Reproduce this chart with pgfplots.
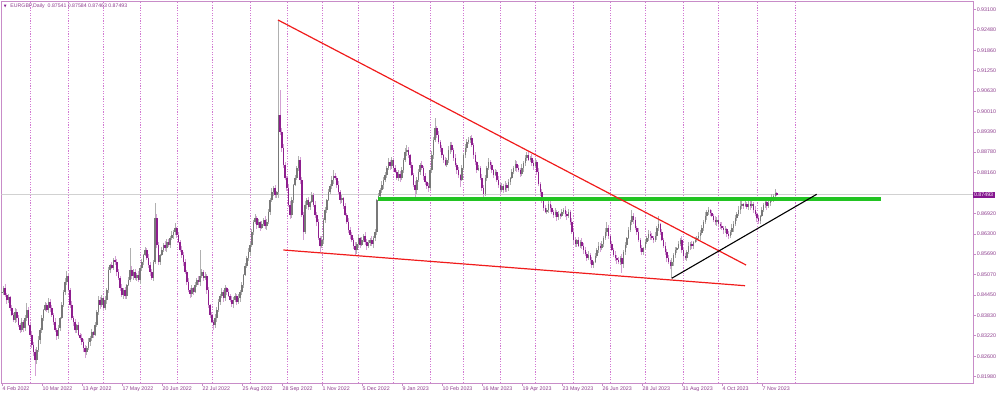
\documentclass[border=0pt]{standalone}
\usepackage{fontspec}
\setmainfont{Liberation Sans}
\newfontfamily\djv{DejaVu Sans}
\usepackage{pgfplots}
\usepackage{pgfplotstable}
\pgfplotsset{compat=1.18}
\definecolor{framec}{HTML}{C88CC8}
\definecolor{lbl}{HTML}{8C3C8C}
\definecolor{gridc}{HTML}{D27AD2}
\definecolor{bearbody}{HTML}{8E1E8E}
\definecolor{bearwick}{HTML}{D4A0D4}
\definecolor{bullbody}{HTML}{787878}
\definecolor{bullwick}{HTML}{B0B0B0}
\definecolor{trendred}{HTML}{F01C1C}
\definecolor{lvlgreen}{HTML}{22C422}
\definecolor{pricebox}{HTML}{85168F}

\pgfplotstableread{
c h l
0.8454 0.8463 0.8448
0.8466 0.8472 0.8445
0.8445 0.8478 0.8439
0.8430 0.8451 0.8418
0.8439 0.8448 0.8421
0.8406 0.8442 0.8397
0.8385 0.8415 0.8381
0.8369 0.8391 0.8363
0.8394 0.8406 0.8360
0.8375 0.8403 0.8363
0.8354 0.8385 0.8348
0.8339 0.8360 0.8330
0.8363 0.8375 0.8333
0.8345 0.8369 0.8333
0.8375 0.8385 0.8336
0.8400 0.8421 0.8366
0.8354 0.8409 0.8351
0.8324 0.8360 0.8318
0.8294 0.8336 0.8285
0.8272 0.8303 0.8260
0.8248 0.8282 0.8200
0.8279 0.8288 0.8236
0.8309 0.8321 0.8272
0.8339 0.8345 0.8297
0.8375 0.8385 0.8330
0.8400 0.8403 0.8366
0.8415 0.8424 0.8397
0.8400 0.8421 0.8394
0.8424 0.8436 0.8391
0.8406 0.8433 0.8394
0.8385 0.8415 0.8378
0.8363 0.8391 0.8354
0.8339 0.8375 0.8333
0.8321 0.8345 0.8309
0.8345 0.8354 0.8312
0.8375 0.8378 0.8336
0.8415 0.8424 0.8372
0.8454 0.8460 0.8409
0.8484 0.8497 0.8445
0.8503 0.8518 0.8475
0.8460 0.8512 0.8454
0.8415 0.8466 0.8406
0.8375 0.8427 0.8369
0.8363 0.8381 0.8351
0.8339 0.8372 0.8330
0.8354 0.8357 0.8330
0.8324 0.8363 0.8321
0.8315 0.8330 0.8309
0.8303 0.8327 0.8294
0.8285 0.8312 0.8272
0.8272 0.8294 0.8254
0.8285 0.8291 0.8263
0.8303 0.8315 0.8279
0.8315 0.8321 0.8291
0.8333 0.8342 0.8306
0.8324 0.8336 0.8315
0.8354 0.8363 0.8321
0.8394 0.8400 0.8348
0.8430 0.8442 0.8385
0.8415 0.8439 0.8403
0.8436 0.8445 0.8409
0.8406 0.8442 0.8397
0.8430 0.8442 0.8400
0.8460 0.8466 0.8418
0.8521 0.8530 0.8451
0.8536 0.8539 0.8512
0.8527 0.8545 0.8524
0.8551 0.8557 0.8521
0.8545 0.8563 0.8536
0.8515 0.8554 0.8503
0.8497 0.8524 0.8491
0.8466 0.8503 0.8457
0.8445 0.8478 0.8439
0.8460 0.8466 0.8433
0.8442 0.8469 0.8433
0.8475 0.8478 0.8433
0.8491 0.8500 0.8472
0.8521 0.8587 0.8484
0.8503 0.8533 0.8494
0.8515 0.8524 0.8491
0.8497 0.8524 0.8491
0.8506 0.8512 0.8487
0.8491 0.8518 0.8484
0.8527 0.8533 0.8478
0.8545 0.8554 0.8518
0.8566 0.8569 0.8536
0.8581 0.8590 0.8563
0.8557 0.8587 0.8551
0.8536 0.8569 0.8527
0.8515 0.8545 0.8503
0.8497 0.8524 0.8491
0.8545 0.8551 0.8487
0.8678 0.8724 0.8539
0.8596 0.8690 0.8587
0.8545 0.8605 0.8536
0.8566 0.8569 0.8536
0.8581 0.8590 0.8563
0.8596 0.8602 0.8575
0.8587 0.8609 0.8578
0.8605 0.8615 0.8575
0.8596 0.8615 0.8590
0.8618 0.8624 0.8587
0.8627 0.8639 0.8612
0.8636 0.8642 0.8615
0.8648 0.8663 0.8627
0.8627 0.8651 0.8618
0.8605 0.8636 0.8602
0.8581 0.8612 0.8575
0.8566 0.8593 0.8557
0.8545 0.8575 0.8533
0.8515 0.8554 0.8509
0.8484 0.8521 0.8475
0.8460 0.8497 0.8454
0.8448 0.8466 0.8436
0.8466 0.8475 0.8439
0.8454 0.8469 0.8445
0.8475 0.8484 0.8451
0.8491 0.8497 0.8469
0.8484 0.8503 0.8475
0.8503 0.8581 0.8472
0.8515 0.8524 0.8497
0.8497 0.8521 0.8487
0.8503 0.8515 0.8491
0.8460 0.8509 0.8448
0.8415 0.8469 0.8406
0.8385 0.8418 0.8375
0.8363 0.8394 0.8360
0.8354 0.8369 0.8339
0.8375 0.8388 0.8345
0.8400 0.8409 0.8363
0.8424 0.8433 0.8394
0.8442 0.8448 0.8415
0.8454 0.8466 0.8436
0.8436 0.8460 0.8424
0.8466 0.8475 0.8427
0.8454 0.8469 0.8445
0.8442 0.8463 0.8439
0.8430 0.8448 0.8424
0.8418 0.8442 0.8409
0.8430 0.8439 0.8406
0.8442 0.8451 0.8424
0.8424 0.8448 0.8415
0.8436 0.8448 0.8418
0.8454 0.8460 0.8424
0.8475 0.8484 0.8445
0.8506 0.8509 0.8466
0.8533 0.8542 0.8503
0.8557 0.8563 0.8527
0.8575 0.8587 0.8548
0.8596 0.8605 0.8563
0.8636 0.8645 0.8590
0.8666 0.8672 0.8627
0.8678 0.8690 0.8660
0.8657 0.8684 0.8645
0.8666 0.8675 0.8648
0.8648 0.8669 0.8639
0.8660 0.8669 0.8645
0.8672 0.8678 0.8654
0.8654 0.8684 0.8645
0.8666 0.8675 0.8642
0.8696 0.8705 0.8660
0.8733 0.8739 0.8687
0.8757 0.8769 0.8727
0.8769 0.8775 0.8745
0.8748 0.8778 0.8739
0.8757 0.8760 0.8739
0.8990 0.9278 0.8739
0.8938 0.9066 0.8929
0.8890 0.8951 0.8878
0.8839 0.8902 0.8830
0.8799 0.8848 0.8793
0.8769 0.8805 0.8760
0.8718 0.8781 0.8711
0.8687 0.8730 0.8675
0.8733 0.8742 0.8678
0.8778 0.8781 0.8724
0.8799 0.8808 0.8775
0.8830 0.8836 0.8793
0.8854 0.8866 0.8820
0.8793 0.8863 0.8781
0.8687 0.8802 0.8681
0.8636 0.8696 0.8612
0.8718 0.8730 0.8630
0.8733 0.8739 0.8705
0.8712 0.8742 0.8702
0.8727 0.8730 0.8702
0.8748 0.8757 0.8724
0.8718 0.8754 0.8712
0.8687 0.8730 0.8678
0.8666 0.8696 0.8654
0.8618 0.8675 0.8612
0.8593 0.8624 0.8575
0.8612 0.8624 0.8587
0.8672 0.8678 0.8600
0.8702 0.8712 0.8663
0.8733 0.8736 0.8693
0.8757 0.8766 0.8730
0.8775 0.8781 0.8751
0.8793 0.8805 0.8766
0.8805 0.8823 0.8781
0.8799 0.8814 0.8793
0.8778 0.8805 0.8769
0.8757 0.8790 0.8751
0.8733 0.8763 0.8721
0.8739 0.8748 0.8724
0.8714 0.8742 0.8705
0.8687 0.8724 0.8684
0.8666 0.8693 0.8660
0.8642 0.8678 0.8633
0.8627 0.8651 0.8615
0.8612 0.8636 0.8605
0.8593 0.8618 0.8584
0.8581 0.8605 0.8566
0.8600 0.8605 0.8569
0.8618 0.8627 0.8590
0.8596 0.8621 0.8587
0.8612 0.8621 0.8593
0.8624 0.8630 0.8605
0.8605 0.8636 0.8596
0.8593 0.8615 0.8581
0.8602 0.8612 0.8587
0.8612 0.8618 0.8593
0.8600 0.8624 0.8593
0.8618 0.8624 0.8587
0.8636 0.8645 0.8609
0.8733 0.8736 0.8627
0.8745 0.8754 0.8730
0.8763 0.8769 0.8739
0.8778 0.8790 0.8754
0.8793 0.8802 0.8766
0.8808 0.8817 0.8787
0.8830 0.8836 0.8799
0.8848 0.8860 0.8823
0.8836 0.8854 0.8823
0.8854 0.8863 0.8827
0.8830 0.8857 0.8820
0.8817 0.8839 0.8814
0.8799 0.8823 0.8793
0.8811 0.8823 0.8790
0.8799 0.8820 0.8787
0.8823 0.8833 0.8793
0.8854 0.8860 0.8814
0.8878 0.8890 0.8848
0.8884 0.8899 0.8866
0.8869 0.8893 0.8860
0.8839 0.8872 0.8830
0.8808 0.8848 0.8805
0.8778 0.8814 0.8772
0.8763 0.8790 0.8739
0.8793 0.8802 0.8751
0.8817 0.8827 0.8787
0.8839 0.8845 0.8808
0.8830 0.8851 0.8823
0.8805 0.8836 0.8793
0.8787 0.8814 0.8778
0.8775 0.8790 0.8766
0.8769 0.8784 0.8757
0.8823 0.8830 0.8763
0.8869 0.8881 0.8814
0.8914 0.8923 0.8857
0.8951 0.8981 0.8908
0.8929 0.8957 0.8920
0.8908 0.8942 0.8902
0.8890 0.8914 0.8878
0.8869 0.8899 0.8860
0.8854 0.8872 0.8845
0.8839 0.8863 0.8836
0.8854 0.8860 0.8833
0.8884 0.8896 0.8845
0.8899 0.8908 0.8872
0.8884 0.8908 0.8878
0.8860 0.8890 0.8851
0.8839 0.8872 0.8833
0.8823 0.8845 0.8811
0.8808 0.8833 0.8799
0.8793 0.8811 0.8772
0.8830 0.8839 0.8790
0.8869 0.8875 0.8823
0.8890 0.8902 0.8860
0.8908 0.8917 0.8878
0.8914 0.8923 0.8902
0.8920 0.8926 0.8905
0.8899 0.8929 0.8893
0.8869 0.8905 0.8857
0.8848 0.8878 0.8839
0.8823 0.8851 0.8814
0.8830 0.8839 0.8820
0.8799 0.8836 0.8793
0.8769 0.8811 0.8760
0.8751 0.8778 0.8733
0.8799 0.8808 0.8745
0.8830 0.8836 0.8790
0.8848 0.8860 0.8823
0.8839 0.8854 0.8827
0.8823 0.8848 0.8814
0.8808 0.8827 0.8799
0.8817 0.8827 0.8805
0.8793 0.8823 0.8787
0.8778 0.8805 0.8769
0.8763 0.8787 0.8751
0.8775 0.8784 0.8757
0.8763 0.8781 0.8754
0.8778 0.8790 0.8757
0.8769 0.8784 0.8757
0.8787 0.8796 0.8760
0.8799 0.8802 0.8778
0.8817 0.8827 0.8796
0.8830 0.8836 0.8811
0.8842 0.8854 0.8820
0.8830 0.8851 0.8817
0.8823 0.8839 0.8817
0.8811 0.8830 0.8802
0.8830 0.8842 0.8805
0.8845 0.8851 0.8817
0.8860 0.8869 0.8836
0.8869 0.8878 0.8851
0.8854 0.8878 0.8851
0.8860 0.8866 0.8848
0.8845 0.8872 0.8836
0.8836 0.8854 0.8823
0.8848 0.8857 0.8830
0.8817 0.8854 0.8808
0.8781 0.8830 0.8775
0.8757 0.8787 0.8745
0.8733 0.8766 0.8724
0.8708 0.8736 0.8699
0.8696 0.8718 0.8693
0.8702 0.8708 0.8690
0.8721 0.8733 0.8693
0.8708 0.8730 0.8696
0.8696 0.8718 0.8690
0.8687 0.8702 0.8678
0.8696 0.8708 0.8681
0.8681 0.8702 0.8669
0.8690 0.8699 0.8672
0.8684 0.8693 0.8675
0.8696 0.8705 0.8681
0.8702 0.8708 0.8690
0.8690 0.8714 0.8681
0.8684 0.8699 0.8672
0.8696 0.8705 0.8678
0.8666 0.8702 0.8657
0.8636 0.8678 0.8630
0.8612 0.8642 0.8600
0.8600 0.8621 0.8590
0.8612 0.8615 0.8590
0.8593 0.8621 0.8590
0.8605 0.8612 0.8587
0.8593 0.8618 0.8584
0.8581 0.8602 0.8569
0.8569 0.8590 0.8563
0.8557 0.8575 0.8548
0.8566 0.8578 0.8551
0.8551 0.8572 0.8539
0.8536 0.8560 0.8527
0.8545 0.8548 0.8527
0.8563 0.8572 0.8542
0.8581 0.8587 0.8557
0.8593 0.8605 0.8572
0.8587 0.8602 0.8575
0.8600 0.8609 0.8581
0.8618 0.8624 0.8590
0.8636 0.8648 0.8612
0.8648 0.8666 0.8624
0.8624 0.8657 0.8615
0.8600 0.8627 0.8590
0.8581 0.8609 0.8578
0.8566 0.8587 0.8560
0.8557 0.8578 0.8548
0.8551 0.8566 0.8539
0.8545 0.8560 0.8539
0.8557 0.8563 0.8536
0.8539 0.8569 0.8512
0.8575 0.8581 0.8527
0.8596 0.8605 0.8566
0.8618 0.8621 0.8587
0.8642 0.8651 0.8615
0.8666 0.8672 0.8636
0.8684 0.8702 0.8657
0.8672 0.8693 0.8660
0.8648 0.8681 0.8642
0.8636 0.8654 0.8627
0.8612 0.8648 0.8605
0.8587 0.8618 0.8575
0.8575 0.8596 0.8566
0.8587 0.8590 0.8566
0.8605 0.8615 0.8584
0.8618 0.8624 0.8600
0.8630 0.8642 0.8609
0.8624 0.8639 0.8612
0.8618 0.8633 0.8612
0.8612 0.8624 0.8602
0.8624 0.8636 0.8605
0.8648 0.8654 0.8612
0.8660 0.8684 0.8639
0.8636 0.8663 0.8627
0.8612 0.8645 0.8609
0.8593 0.8618 0.8587
0.8575 0.8605 0.8566
0.8557 0.8584 0.8545
0.8545 0.8566 0.8539
0.8533 0.8551 0.8524
0.8545 0.8557 0.8497
0.8566 0.8572 0.8533
0.8581 0.8590 0.8557
0.8587 0.8590 0.8572
0.8600 0.8609 0.8584
0.8612 0.8618 0.8593
0.8581 0.8624 0.8572
0.8563 0.8590 0.8551
0.8557 0.8572 0.8551
0.8575 0.8581 0.8548
0.8593 0.8605 0.8569
0.8600 0.8605 0.8581
0.8593 0.8609 0.8584
0.8605 0.8609 0.8584
0.8612 0.8621 0.8602
0.8618 0.8624 0.8605
0.8624 0.8636 0.8609
0.8633 0.8642 0.8612
0.8648 0.8657 0.8627
0.8666 0.8672 0.8639
0.8684 0.8696 0.8660
0.8696 0.8702 0.8672
0.8702 0.8712 0.8687
0.8693 0.8705 0.8684
0.8684 0.8702 0.8681
0.8672 0.8690 0.8666
0.8666 0.8684 0.8657
0.8672 0.8681 0.8654
0.8660 0.8681 0.8654
0.8654 0.8666 0.8645
0.8648 0.8666 0.8642
0.8642 0.8654 0.8630
0.8645 0.8654 0.8633
0.8630 0.8648 0.8621
0.8624 0.8639 0.8615
0.8636 0.8642 0.8618
0.8648 0.8660 0.8627
0.8660 0.8669 0.8636
0.8678 0.8687 0.8654
0.8690 0.8696 0.8669
0.8702 0.8714 0.8684
0.8714 0.8739 0.8690
0.8721 0.8730 0.8705
0.8714 0.8724 0.8705
0.8721 0.8730 0.8712
0.8712 0.8727 0.8705
0.8721 0.8733 0.8702
0.8714 0.8730 0.8702
0.8721 0.8730 0.8708
0.8702 0.8727 0.8693
0.8690 0.8714 0.8684
0.8678 0.8696 0.8666
0.8669 0.8687 0.8660
0.8684 0.8687 0.8660
0.8702 0.8712 0.8681
0.8718 0.8724 0.8696
0.8727 0.8739 0.8708
0.8714 0.8736 0.8702
0.8724 0.8733 0.8708
0.8733 0.8739 0.8714
0.8739 0.8751 0.8727
0.8745 0.8751 0.8727
0.8754 0.8766 0.8736
0.87493 0.87584 0.87463
}\rawdata

% open = previous close
\pgfplotstablecreatecol[create col/assign/.code={%
  \getthisrow{c}\vC
  \ifnum\pgfplotstablerow=0 \let\entry\vC\else\getprevrow{c}\entry\fi
  \pgfkeyslet{/pgfplots/table/create col/next content}\entry}]{o}\rawdata
% wick length
\pgfplotstablecreatecol[create col/assign/.code={%
  \getthisrow{h}\vH \getthisrow{l}\vL
  \pgfmathsetmacro\entry{\vH-\vL}%
  \pgfkeyslet{/pgfplots/table/create col/next content}\entry}]{hl}\rawdata
% body height
\pgfplotstablecreatecol[create col/assign/.code={%
  \getthisrow{c}\vC \getthisrow{o}\vO
  \pgfmathsetmacro\entry{max(abs(\vC-\vO),0.00015)}%
  \pgfkeyslet{/pgfplots/table/create col/next content}\entry}]{bh}\rawdata
% up candles: wick low and body low, nan otherwise
\pgfplotstablecreatecol[create col/assign/.code={%
  \getthisrow{c}\vC \getthisrow{o}\vO \getthisrow{l}\vL
  \ifdim\vC pt<\vO pt \def\entry{nan}\else\let\entry\vL\fi
  \pgfkeyslet{/pgfplots/table/create col/next content}\entry}]{ul}\rawdata
\pgfplotstablecreatecol[create col/assign/.code={%
  \getthisrow{c}\vC \getthisrow{o}\vO
  \ifdim\vC pt<\vO pt \def\entry{nan}\else\let\entry\vO\fi
  \pgfkeyslet{/pgfplots/table/create col/next content}\entry}]{ub}\rawdata
% down candles
\pgfplotstablecreatecol[create col/assign/.code={%
  \getthisrow{c}\vC \getthisrow{o}\vO \getthisrow{l}\vL
  \ifdim\vC pt<\vO pt \let\entry\vL\else\def\entry{nan}\fi
  \pgfkeyslet{/pgfplots/table/create col/next content}\entry}]{dl}\rawdata
\pgfplotstablecreatecol[create col/assign/.code={%
  \getthisrow{c}\vC \getthisrow{o}\vO
  \ifdim\vC pt<\vO pt \let\entry\vC\else\def\entry{nan}\fi
  \pgfkeyslet{/pgfplots/table/create col/next content}\entry}]{db}\rawdata

\begin{document}
\begin{tikzpicture}
\useasboundingbox (0,0) rectangle (1000pt,394pt);
\begin{axis}[
  at={(1.5pt,11pt)}, anchor=south west,
  width=971.5pt, height=382pt, scale only axis,
  xmin=-0.2, xmax=582.7,
  ymin=0.81788, ymax=0.93351,
  unbounded coords=discard,
  axis line style={draw=framec, line width=0.9pt},
  tick align=outside, major tick length=3pt,
  tick style={draw=framec, line width=0.6pt},
  xtick pos=left, ytick pos=right,
  yticklabel pos=right,
  ticklabel style={font=\fontsize{5.3}{6}\selectfont, text=lbl},
  xtick={0,24,48,72,96,120,144,168,192,216,240,264,288,312,336,360,384,408,432,456},
  xticklabels={4 Feb 2022,10 Mar 2022,13 Apr 2022,17 May 2022,20 Jun 2022,22 Jul 2022,25 Aug 2022,28 Sep 2022,1 Nov 2022,5 Dec 2022,9 Jan 2023,10 Feb 2023,16 Mar 2023,19 Apr 2023,23 May 2023,26 Jun 2023,28 Jul 2023,31 Aug 2023,4 Oct 2023,7 Nov 2023},
  xticklabel style={anchor=north west, inner sep=0.6pt},
  ytick={0.93100,0.92480,0.91860,0.91250,0.90630,0.90010,0.89390,0.88780,0.88160,0.86920,0.86300,0.85690,0.85070,0.84450,0.83830,0.83220,0.82600,0.81980},
  yticklabels={0.93100,0.92480,0.91860,0.91250,0.90630,0.90010,0.89390,0.88780,0.88160,0.86920,0.86300,0.85690,0.85070,0.84450,0.83830,0.83220,0.82600,0.81980},
  yticklabel style={anchor=west, inner sep=0.6pt},
  extra x ticks={17,40,61,83,105,126,149,171,192,214,235,257,277,299,320,343,365,386,409,430,453,476},
  extra x tick labels={},
  extra x tick style={grid=major, major tick length=0pt},
  major grid style={draw=gridc, line width=0.55pt, dash pattern=on 1.3pt off 1.3pt},
  extra y ticks={0.87493},
  extra y tick labels={0.87493},
  extra y tick style={major tick length=0pt, yticklabel style={fill=pricebox, text=white, inner xsep=1.4pt, inner ysep=1.1pt, xshift=-0.6pt}},
]
% price line
\addplot[forget plot, color=black!18, line width=0.6pt] coordinates {(-0.2,0.87493) (582.7,0.87493)};
% wicks
\addplot[forget plot, mark=none, bullwick, line width=0.7pt, quiver={u=0, v=\thisrow{hl}}]
  table[x expr=\coordindex, y=ul] {\rawdata};
\addplot[forget plot, mark=none, bearwick, line width=0.7pt, quiver={u=0, v=\thisrow{hl}}]
  table[x expr=\coordindex, y=dl] {\rawdata};
% bodies
\addplot[forget plot, mark=none, bullbody, line width=1.35pt, quiver={u=0, v=\thisrow{bh}}]
  table[x expr=\coordindex, y=ub] {\rawdata};
\addplot[forget plot, mark=none, bearbody, line width=1.35pt, quiver={u=0, v=\thisrow{bh}}]
  table[x expr=\coordindex, y=db] {\rawdata};
% trendlines
\addplot[forget plot, lvlgreen, line width=4pt] coordinates {(225.5,0.87358) (527.5,0.87358)};
\addplot[forget plot, trendred, line width=1.2pt] coordinates {(165.7,0.92776) (446.5,0.85360)};
\addplot[forget plot, trendred, line width=1.2pt] coordinates {(168.9,0.85814) (445.9,0.84733)};
\addplot[forget plot, black, line width=1.1pt] coordinates {(401.9,0.84957) (488.9,0.87500)};
% title
\node[anchor=west, inner sep=0pt, text=pricebox, font=\djv\fontsize{3.6}{4}\selectfont] at (rel axis cs:0,1) [xshift=2.2pt, yshift=-5.2pt] {▼};
\node[anchor=west, inner sep=0pt, text=lbl, font=\fontsize{5.2}{6}\selectfont] at (rel axis cs:0,1) [xshift=8.8pt, yshift=-5.2pt] {EURGBP,Daily\ \ 0.87541 0.87584 0.87463 0.87493};
\end{axis}
\end{tikzpicture}
\end{document}
